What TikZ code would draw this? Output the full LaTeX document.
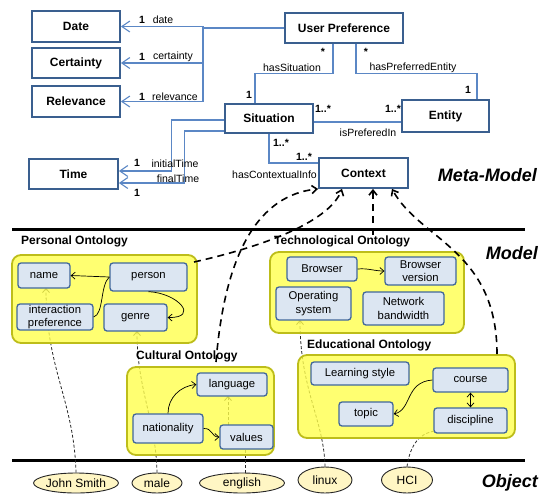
\documentclass[tikz,border=0pt]{standalone}
\usepackage{fontspec}
\setmainfont{Liberation Sans}
\usetikzlibrary{arrows.meta,shapes.geometric}
\definecolor{umlborder}{HTML}{3A5F8F}
\definecolor{umlline}{HTML}{5B87C5}
\definecolor{ontofill}{HTML}{FFFF4D}
\definecolor{ontoborder}{HTML}{BDBD1A}
\definecolor{conceptfill}{HTML}{DCE6F2}
\definecolor{conceptborder}{HTML}{41679B}
\definecolor{instfill}{HTML}{FFF6C4}
\tikzset{
  uml/.style={draw=umlborder, line width=1.8pt, fill=white, inner sep=0pt, font=\bfseries\fontsize{12}{14}\selectfont},
  umlconn/.style={draw=umlline, line width=1.1pt},
  umlarrow/.style={umlconn, -{Straight Barb[length=8pt,width=11pt,line width=1.1pt]}},
  lbl/.style={inner sep=0pt, font=\fontsize{10.5}{12}\selectfont},
  mult/.style={inner sep=0pt, font=\bfseries\fontsize{10.5}{12}\selectfont},
  onto/.style={draw=ontoborder, line width=1.8pt, fill=ontofill, fill opacity=0.8, rounded corners=9pt, inner sep=0pt},
  ontotitle/.style={inner sep=0pt, anchor=west, font=\bfseries\fontsize{12}{14}\selectfont},
  concept/.style={draw=conceptborder, line width=1.3pt, fill=conceptfill, rounded corners=3pt, inner sep=0pt, align=center, font=\fontsize{11.3}{13.5}\selectfont},
  rel/.style={draw=black, line width=0.7pt},
  relarrow/.style={rel, -{Straight Barb[length=4pt,width=7pt,line width=0.7pt]}},
  inst/.style={ellipse, draw=black!85, line width=0.9pt, fill=instfill, inner sep=0pt, font=\fontsize{12}{14}\selectfont},
  instline/.style={draw=black!85, line width=0.8pt, dash pattern=on 3pt off 2pt},
  instarrow/.style={instline, -{Straight Barb[length=4pt,width=7pt,line width=0.8pt]}},
  ctxarrow/.style={draw=black, line width=1.6pt, dash pattern=on 7pt off 5pt, -{Straight Barb[length=5pt,width=8pt,line width=1.6pt]}},
  level/.style={inner sep=0pt, anchor=east, font=\bfseries\itshape\fontsize{18}{20}\selectfont},
  sep/.style={draw=black, line width=3pt}
}
\begin{document}
\begin{tikzpicture}[x=1pt,y=-1pt]
\useasboundingbox (0,0) rectangle (543,493);

% ---------------- Meta-model ----------------
\node[uml, minimum width=88pt, minimum height=31pt] (date) at (76,26.5) {Date};
\node[uml, minimum width=88pt, minimum height=30pt] (cert) at (76,63) {Certainty};
\node[uml, minimum width=88pt, minimum height=31pt] (relv) at (76,101.5) {Relevance};
\node[uml, minimum width=118pt, minimum height=30pt] (up) at (344,28) {User Preference};
\node[uml, minimum width=88pt, minimum height=29pt] (sit) at (269,118.5) {Situation};
\node[uml, minimum width=87pt, minimum height=32pt] (ent) at (445.5,116) {Entity};
\node[uml, minimum width=89pt, minimum height=30pt] (time) at (73.5,174) {Time};
\node[uml, minimum width=89pt, minimum height=30pt] (ctx) at (363.5,173) {Context};

\coordinate (jn) at (203,28);
\draw[umlconn] (up.west) -- (jn);
\draw[umlarrow] (jn) |- (date.east);
\draw[umlarrow] (jn) |- (cert.east);
\draw[umlarrow] (jn) |- (relv.east);
\node[mult] (m1) at (142,20) {1};
\node[lbl] (l1) at (163,20) {date};
\node[mult] (m2) at (142,57) {1};
\node[lbl] (l2) at (173,57) {certainty};
\node[mult] (m3) at (142,97) {1};
\node[lbl] (l3) at (175,97) {relevance};

\draw[umlconn] ([xshift=-11pt]up.south) -- ++(0,30) -| ([xshift=-14pt]sit.north);
\node[mult] (m4) at (323,52) {*};
\node[lbl] (l4) at (292,68) {hasSituation};
\node[mult] (m5) at (249,95) {1};

\draw[umlconn] ([xshift=12pt]up.south) -- ++(0,30) -| ([xshift=31.5pt]ent.north);
\node[mult] (m6) at (366,52) {*};
\node[lbl] (l6) at (413,68) {hasPreferredEntity};
\node[mult] (m7) at (468,90) {1};

\draw[umlconn] ([yshift=-3.5pt]sit.east) -- ([yshift=-3.5pt]sit.east -| ent.west);
\node[mult] (m8) at (323,109) {1..*};
\node[mult] (m9) at (393,109) {1..*};
\node[lbl] (l9) at (368,133) {isPreferedIn};

\draw[umlarrow] ([yshift=-1.5pt]sit.west) -- ++(-53,0) |- ([yshift=3pt]time.east);
\draw[umlarrow] ([yshift=-12.5pt]sit.west) -- ++(-40,0) |- ([yshift=-9pt]time.east);
\node[mult] (m10) at (137,163) {1};
\node[lbl] (l10) at (175,164) {initialTime};
\node[lbl] (l11) at (178,179) {finalTime};
\node[mult] (m11) at (137,193) {1};

\draw[umlconn] (sit.south) |- ([yshift=10pt]ctx.west);
\node[mult] (m12) at (281,143) {1..*};
\node[mult] (m13) at (304,157) {1..*};
\node[lbl, anchor=east] (l13) at (317,175) {hasContextualInfo};

\node[level] (lv1) at (537,175) {Meta-Model};
\node[level] (lv2) at (538,253) {Model};
\node[level] (lv3) at (538,483) {Object};

% separators
\coordinate (s1a) at (12,229); \coordinate (s1b) at (525,229);
\coordinate (s2a) at (12,460); \coordinate (s2b) at (525,460);
\draw[sep] (s1a) -- (s1b);
\draw[sep] (s2a) -- (s2b);

% ---------------- Objects ----------------
\node[inst, minimum width=75pt, minimum height=20pt] (js) at (76,483) {John Smith};
\node[inst, minimum width=50pt, minimum height=20pt] (male) at (157,483) {male};
\node[inst, minimum width=85pt, minimum height=20pt] (eng) at (242,483) {english};
\node[inst, minimum width=54pt, minimum height=26pt] (linux) at (325,480) {linux};
\node[inst, minimum width=51pt, minimum height=26pt] (hci) at (407,480) {HCI};

% concept coordinates (for instance links drawn under the boxes)
\coordinate (nameS) at (46,288);
\coordinate (genreS) at (137,331);
\coordinate (valS) at (245,449);
\coordinate (valN) at (228,425);
\coordinate (langS) at (228,396);
\coordinate (osS) at (300,320);
\coordinate (discSW) at (436,431);

\draw[instarrow] (js.north) .. controls (74,400) and (46,370) .. (nameS);
\draw[instarrow] (male.north) .. controls (156,420) and (137,390) .. (genreS);
\draw[instline] (eng.north -| valS) -- (valS);
\draw[instarrow] (valN) -- (langS);
\draw[instarrow] (linux.north) .. controls (324,420) and (300,390) .. (osS);
\draw[instline] (hci.north) .. controls (410,445) and (420,432) .. (discSW);

% ---------------- Ontology boxes ----------------
\node[onto, minimum width=185pt, minimum height=88pt] (pers) at (104.5,299) {};
\node[onto, minimum width=194pt, minimum height=81pt] (tech) at (367,292.5) {};
\node[onto, minimum width=217pt, minimum height=83pt] (edu) at (406.5,396.5) {};
\node[onto, minimum width=147pt, minimum height=88pt] (cult) at (200.5,411) {};

\node[ontotitle] (perst) at (21,241) {Personal Ontology};
\node[ontotitle] (techt) at (274,241) {Technological Ontology};
\node[ontotitle] (edut) at (307,345) {Educational Ontology};
\node[ontotitle] (cultt) at (136,356) {Cultural Ontology};

% Personal
\node[concept, minimum width=52pt, minimum height=25pt] (name) at (44,275.5) {name};
\node[concept, minimum width=77pt, minimum height=28pt] (person) at (148.5,277) {person};
\node[concept, minimum width=76pt, minimum height=26pt] (ip) at (55,317) {interaction\\preference};
\node[concept, minimum width=63pt, minimum height=27pt] (genre) at (135.5,317.5) {genre};
\draw[relarrow] (person.west) -- (name.east);
\draw[rel] (person.west) .. controls (100,285) and (104,314) .. (ip.east);
\draw[relarrow] ([xshift=0pt]person.south) .. controls (178,293) and (200,318) .. (genre.east);

% Technological
\node[concept, minimum width=70pt, minimum height=24pt] (browser) at (322,269) {Browser};
\node[concept, minimum width=71pt, minimum height=28pt] (bv) at (420.5,271) {Browser\\version};
\node[concept, minimum width=75pt, minimum height=33pt] (os) at (313.5,303.5) {Operating\\system};
\node[concept, minimum width=81pt, minimum height=33pt] (nb) at (403.5,308.5) {Network\\bandwidth};
\draw[relarrow] (browser.east) .. controls (368,268) and (374,271) .. (bv.west);

% Educational
\node[concept, minimum width=98pt, minimum height=23pt] (ls) at (360,373.5) {Learning style};
\node[concept, minimum width=75pt, minimum height=24pt] (course) at (470.5,380) {course};
\node[concept, minimum width=54pt, minimum height=24pt] (topic) at (366,414) {topic};
\node[concept, minimum width=73pt, minimum height=25pt] (disc) at (470.5,420.5) {discipline};
\draw[relarrow] (course.west) .. controls (405,382) and (412,410) .. (topic.east);
\draw[rel, {Straight Barb[length=4pt,width=7pt,line width=0.7pt]}-{Straight Barb[length=4pt,width=7pt,line width=0.7pt]}] (course.south) -- (disc.north);

% Cultural
\node[concept, minimum width=70pt, minimum height=23pt] (lang) at (232,384.5) {language};
\node[concept, minimum width=70pt, minimum height=29pt] (nat) at (168,428.5) {nationality};
\node[concept, minimum width=53pt, minimum height=24pt] (val) at (246.5,437) {values};
\draw[relarrow] (nat.north) .. controls (168,398) and (180,386) .. (lang.west);
\draw[relarrow] (nat.east) .. controls (213,428) and (211,437) .. (val.west);

% ---------------- Model -> Context ----------------
\coordinate (persc) at (194,262);
\coordinate (cultc) at (216,362);
\coordinate (eduStart) at ([xshift=90.5pt]edu.north);
\coordinate (ctxT) at ([xshift=9.5pt]ctx.south);
\draw[ctxarrow] (persc) .. controls (270,245) and (330,220) .. ([xshift=-21.5pt]ctx.south);
\draw[ctxarrow] (cultc) .. controls (225,250) and (260,195) .. (ctx.south west);
\draw[ctxarrow] (ctxT |- techt.north) -- (ctxT);
\draw[ctxarrow] (eduStart) .. controls (497,250) and (420,240) .. ([xshift=28.5pt]ctx.south);
\end{tikzpicture}
\end{document}
